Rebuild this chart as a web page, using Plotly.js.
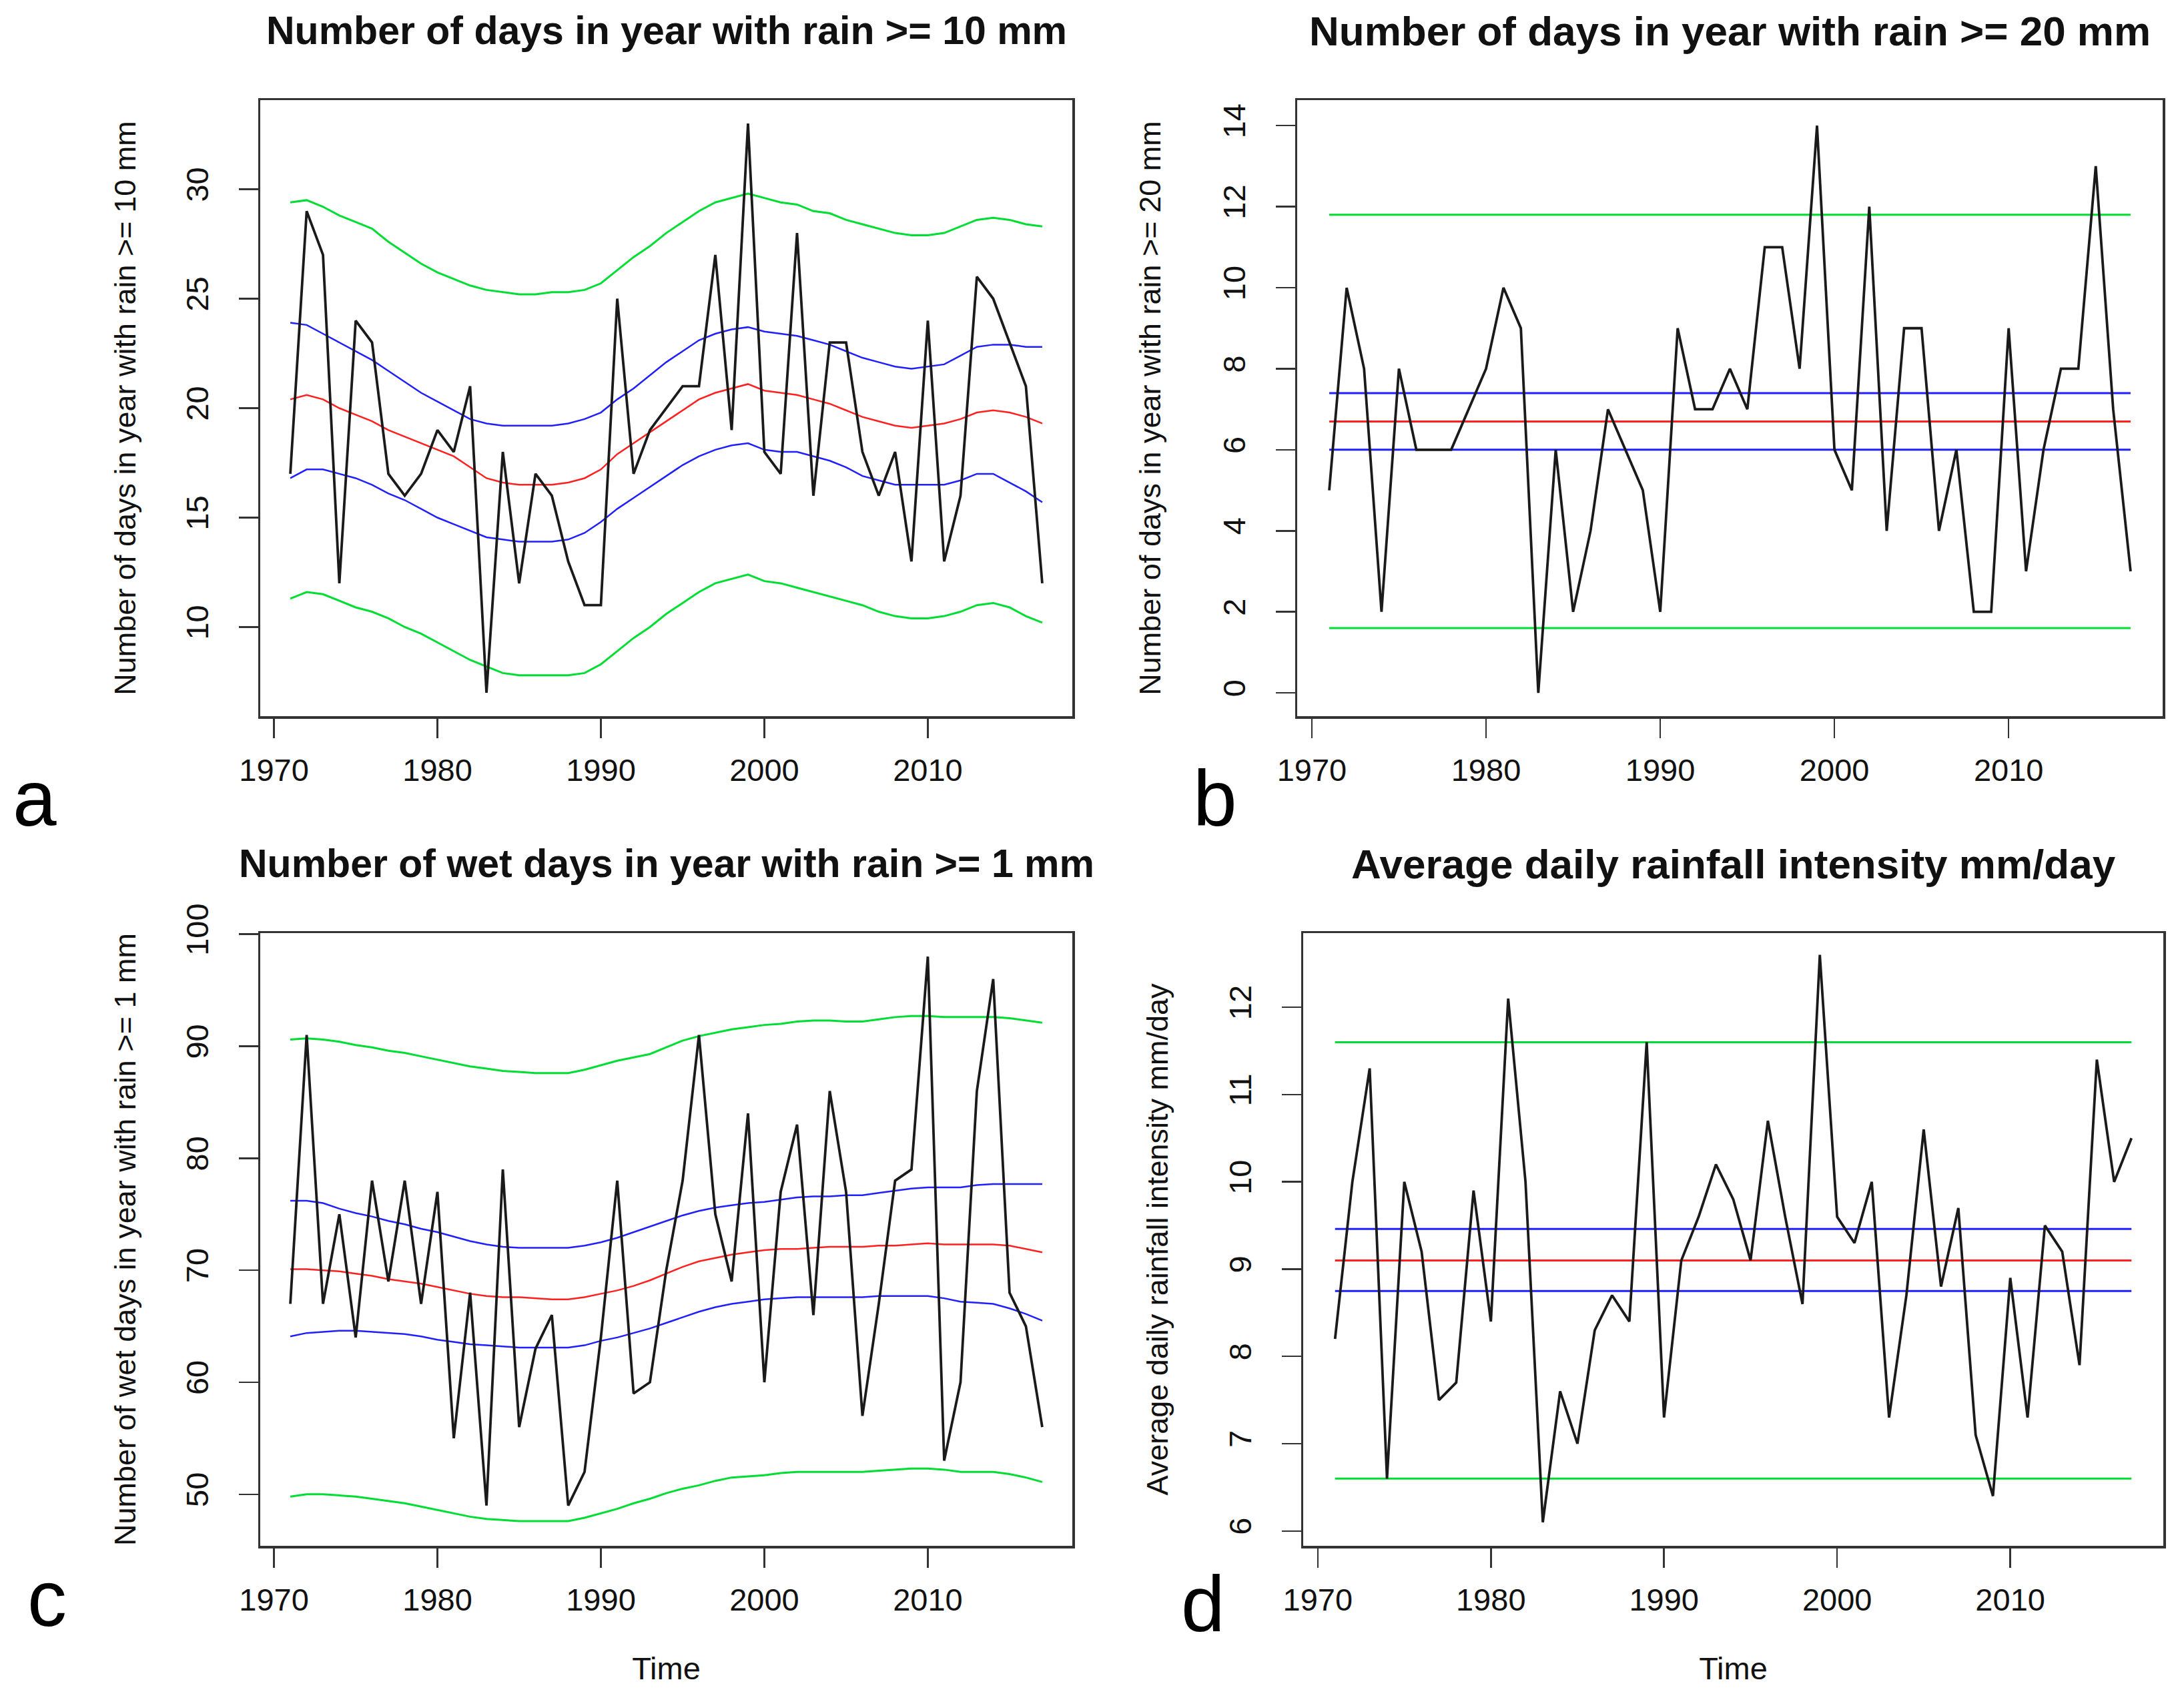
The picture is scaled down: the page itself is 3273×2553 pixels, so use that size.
<!DOCTYPE html>
<html>
<head>
<meta charset="utf-8">
<script src="https://cdn.plot.ly/plotly-3.0.1.min.js"></script>
<style>html,body{margin:0;padding:0;background:#fff;}#chart{width:3273px;height:2553px;}</style>
</head>
<body>
<div id="chart"></div>
<script>
// ---------------- data ----------------
const years = [1971,1972,1973,1974,1975,1976,1977,1978,1979,1980,
  1981,1982,1983,1984,1985,1986,1987,1988,1989,1990,
  1991,1992,1993,1994,1995,1996,1997,1998,1999,2000,
  2001,2002,2003,2004,2005,2006,2007,2008,2009,2010,
  2011,2012,2013,2014,2015,2016,2017];

// Panel a: days with rain >= 10 mm
const r10 = [17,29,27,12,24,23,17,16,17,19, 18,21,7,18,12,17,16,13,11,11,
  25,17,19,20,21,21,27,19,33,18, 17,28,16,23,23,18,16,18,13,24, 13,16,26,25,23,21,12];
const r10Mean = [20.4,20.6,20.4,20.0,19.7,19.4,19.0,18.7,18.4,18.1, 17.8,17.3,16.8,16.6,16.5,16.5,16.5,16.6,16.8,17.2,
  17.9,18.4,18.9,19.4,19.9,20.4,20.7,20.9,21.1,20.8, 20.7,20.6,20.4,20.2,19.9,19.6,19.4,19.2,19.1,19.2, 19.3,19.5,19.8,19.9,19.8,19.6,19.3];
const r10BlueUp = [23.9,23.8,23.4,23.0,22.6,22.2,21.7,21.2,20.7,20.3, 19.9,19.5,19.3,19.2,19.2,19.2,19.2,19.3,19.5,19.8,
  20.4,20.9,21.5,22.1,22.6,23.1,23.4,23.6,23.7,23.5, 23.4,23.3,23.1,22.9,22.6,22.3,22.1,21.9,21.8,21.9, 22.0,22.4,22.8,22.9,22.9,22.8,22.8];
const r10BlueLo = [16.8,17.2,17.2,17.0,16.8,16.5,16.1,15.8,15.4,15.0, 14.7,14.4,14.1,14.0,13.9,13.9,13.9,14.0,14.3,14.8,
  15.4,15.9,16.4,16.9,17.4,17.8,18.1,18.3,18.4,18.1, 18.0,18.0,17.8,17.6,17.3,16.9,16.7,16.5,16.5,16.5, 16.5,16.7,17.0,17.0,16.6,16.2,15.7];
const r10GreenUp = [29.4,29.5,29.2,28.8,28.5,28.2,27.6,27.1,26.6,26.2, 25.9,25.6,25.4,25.3,25.2,25.2,25.3,25.3,25.4,25.7,
  26.3,26.9,27.4,28.0,28.5,29.0,29.4,29.6,29.8,29.6, 29.4,29.3,29.0,28.9,28.6,28.4,28.2,28.0,27.9,27.9, 28.0,28.3,28.6,28.7,28.6,28.4,28.3];
const r10GreenLo = [11.3,11.6,11.5,11.2,10.9,10.7,10.4,10.0,9.7,9.3, 8.9,8.5,8.2,7.9,7.8,7.8,7.8,7.8,7.9,8.3,
  8.9,9.5,10.0,10.6,11.1,11.6,12.0,12.2,12.4,12.1, 12.0,11.8,11.6,11.4,11.2,11.0,10.7,10.5,10.4,10.4, 10.5,10.7,11.0,11.1,10.9,10.5,10.2];

// Panel b: days with rain >= 20 mm
const r20 = [5,10,8,2,8,6,6,6,7,8, 10,9,0,6,2,4,7,6,5,2,
  9,7,7,8,7,11,11,8,14,6, 5,12,4,9,9,4,6,2,2,9, 3,6,8,8,13,7,3];
const r20GreenUp = 11.8, r20BlueUp = 7.4, r20Mean = 6.7, r20BlueLo = 6.0, r20GreenLo = 1.6;

// Panel c: wet days with rain >= 1 mm
const r1 = [67,91,67,75,64,78,69,78,67,77, 55,68,49,79,56,63,66,49,52,64,
  78,59,60,70,78,91,75,69,84,60, 77,83,66,86,77,57,67,78,79,98, 53,60,86,96,68,65,56];
const r1Mean = [70.1,70.1,70.0,69.9,69.7,69.5,69.2,69.0,68.8,68.5, 68.2,67.9,67.7,67.6,67.6,67.5,67.4,67.4,67.6,67.9,
  68.2,68.6,69.1,69.7,70.3,70.8,71.1,71.4,71.6,71.8, 71.9,71.9,72.0,72.1,72.1,72.1,72.2,72.2,72.3,72.4, 72.3,72.3,72.3,72.3,72.2,71.9,71.6];
const r1BlueUp = [76.2,76.2,76.0,75.5,75.1,74.8,74.4,74.1,73.7,73.4, 73.0,72.6,72.3,72.1,72.0,72.0,72.0,72.0,72.2,72.5,
  72.9,73.4,73.9,74.4,74.9,75.3,75.6,75.8,76.0,76.1, 76.3,76.5,76.6,76.6,76.7,76.7,76.9,77.1,77.3,77.4, 77.4,77.4,77.6,77.7,77.7,77.7,77.7];
const r1BlueLo = [64.1,64.4,64.5,64.6,64.6,64.5,64.4,64.3,64.1,63.8, 63.6,63.4,63.3,63.2,63.1,63.1,63.1,63.1,63.3,63.7,
  64.0,64.4,64.8,65.3,65.8,66.3,66.7,67.0,67.2,67.4, 67.5,67.6,67.6,67.6,67.6,67.6,67.7,67.7,67.7,67.7, 67.5,67.2,67.1,67.0,66.6,66.1,65.5];
const r1GreenUp = [90.6,90.7,90.6,90.4,90.1,89.9,89.6,89.4,89.1,88.8, 88.5,88.2,88.0,87.8,87.7,87.6,87.6,87.6,87.9,88.3,
  88.7,89.0,89.3,89.9,90.5,90.9,91.2,91.5,91.7,91.9, 92.0,92.2,92.3,92.3,92.2,92.2,92.4,92.6,92.7,92.7, 92.6,92.6,92.6,92.6,92.5,92.3,92.1];
const r1GreenLo = [49.8,50.0,50.0,49.9,49.8,49.6,49.4,49.2,48.9,48.6, 48.3,48.0,47.8,47.7,47.6,47.6,47.6,47.6,47.9,48.3,
  48.7,49.2,49.6,50.1,50.5,50.8,51.2,51.5,51.6,51.7, 51.9,52.0,52.0,52.0,52.0,52.0,52.1,52.2,52.3,52.3, 52.2,52.0,52.0,52.0,51.8,51.5,51.1];

// Panel d: average daily rainfall intensity
const sdii = [8.2,10.0,11.3,6.6,10.0,9.2,7.5,7.7,9.9,8.4, 12.1,10.0,6.1,7.6,7.0,8.3,8.7,8.4,11.6,7.3,
  9.1,9.6,10.2,9.8,9.1,10.7,9.6,8.6,12.6,9.6, 9.3,10.0,7.3,8.7,10.6,8.8,9.7,7.1,6.4,8.9, 7.3,9.5,9.2,7.9,11.4,10.0,10.5];
const sdiiGreenUp = 11.6, sdiiBlueUp = 9.46, sdiiMean = 9.1, sdiiBlueLo = 8.75, sdiiGreenLo = 6.6;

// tick labels / titles
const xTicks = [1970,1980,1990,2000,2010];
const yTicksA = [10,15,20,25,30];
const yTicksB = [0,2,4,6,8,10,12,14];
const yTicksC = [50,60,70,80,90,100];
const yTicksD = [6,7,8,9,10,11,12];
const titles = ["Number of days in year with rain >= 10 mm","Number of days in year with rain >= 20 mm",
  "Number of wet days in year with rain >= 1 mm","Average daily rainfall intensity mm/day"];
const yTitles = ["Number of days in year with rain >= 10 mm","Number of days in year with rain >= 20 mm",
  "Number of wet days in year with rain >= 1 mm","Average daily rainfall intensity mm/day"];
const panelLetters = ["a","b","c","d"];

// ---------------- styling ----------------
const FONT = "Liberation Sans, Arial, Helvetica, sans-serif";
const C_BLACK = "#1a1a1a", C_RED = "#ff2020", C_BLUE = "#2020ff", C_GREEN = "#00dd33";
const W = 3273, H = 2553;

function line(x, y, color, width, n) {
  const s = n === 1 ? "" : String(n);
  return {type:"scatter", mode:"lines", x:x, y:y, xaxis:"x"+s, yaxis:"y"+s,
    line:{color:color, width:width}, hoverinfo:"skip", showlegend:false};
}
const ends = [years[0], years[years.length-1]];
function hline(v, color, n) { return line(ends, [v, v], color, 3, n); }

const traces = [
  line(years, r10GreenUp, C_GREEN, 3, 1), line(years, r10GreenLo, C_GREEN, 3, 1),
  line(years, r10BlueUp, C_BLUE, 2.5, 1), line(years, r10BlueLo, C_BLUE, 2.5, 1),
  line(years, r10Mean, C_RED, 2.5, 1), line(years, r10, C_BLACK, 3.8, 1),

  hline(r20GreenUp, C_GREEN, 2), hline(r20GreenLo, C_GREEN, 2),
  hline(r20BlueUp, C_BLUE, 2), hline(r20BlueLo, C_BLUE, 2),
  hline(r20Mean, C_RED, 2), line(years, r20, C_BLACK, 3.8, 2),

  line(years, r1GreenUp, C_GREEN, 3, 3), line(years, r1GreenLo, C_GREEN, 3, 3),
  line(years, r1BlueUp, C_BLUE, 2.5, 3), line(years, r1BlueLo, C_BLUE, 2.5, 3),
  line(years, r1Mean, C_RED, 2.5, 3), line(years, r1, C_BLACK, 3.8, 3),

  hline(sdiiGreenUp, C_GREEN, 4), hline(sdiiGreenLo, C_GREEN, 4),
  hline(sdiiBlueUp, C_BLUE, 4), hline(sdiiBlueLo, C_BLUE, 4),
  hline(sdiiMean, C_RED, 4), line(years, sdii, C_BLACK, 3.8, 4)
];

// box positions in pixels (left, right, top, bottom)
const boxes = [[390,1607,150,1073],[1944,3241,150,1073],[390,1607,1398,2316],[1953,3242,1398,2316]];
const yRanges = [[5.93,34.07],[-0.575,14.63],[45.4,100.1],[5.83,12.85]];
const yTickSets = [yTicksA, yTicksB, yTicksC, yTicksD];
const yTitleStandoff = [52,70,52,68];
const titleSize = [59,62,59,62];

const layout = {width:W, height:H, margin:{l:0,r:0,t:0,b:0}, paper_bgcolor:"#fff", plot_bgcolor:"#fff",
  showlegend:false, font:{family:FONT, color:"#111"}, annotations:[]};

boxes.forEach((b, i) => {
  const s = i === 0 ? "" : String(i+1);
  const common = {showline:true, mirror:true, linecolor:"#333", linewidth:3.5, ticks:"outside", ticklen:29,
    tickwidth:2.5, tickcolor:"#333", showgrid:false, zeroline:false, tickfont:{family:FONT, size:47, color:"#111"}};
  layout["xaxis"+s] = Object.assign({}, common, {domain:[b[0]/W, b[1]/W], range:[1969.16,2018.84],
    anchor:"y"+s, tickmode:"array", tickvals:xTicks, ticktext:xTicks.map(String), ticklabelstandoff:8,
    title: i >= 2 ? {text:"Time", font:{family:FONT, size:47, color:"#111"}, standoff:62} : {text:""}});
  layout["yaxis"+s] = Object.assign({}, common, {domain:[1-b[3]/H, 1-b[2]/H], range:yRanges[i],
    anchor:"x"+s, tickmode:"array", tickvals:yTickSets[i], ticktext:yTickSets[i].map(String), tickangle:-90,
    ticklabelstandoff:27,
    title:{text:yTitles[i], font:{family:FONT, size:45, color:"#111"}, standoff:yTitleStandoff[i]}});
  layout.annotations.push({xref:"paper", yref:"paper", x:((b[0]+b[1])/2)/W, y:1-(i<2?46:1294)/H,
    xanchor:"center", yanchor:"middle", showarrow:false, text:"<b>"+titles[i]+"</b>",
    font:{family:FONT, size:titleSize[i], color:"#111"}});
});
const letterPos = [[52,1196],[1821,1196],[70,2395],[1803,2403]];
letterPos.forEach((p, i) => {
  layout.annotations.push({xref:"paper", yref:"paper", x:p[0]/W, y:1-p[1]/H, xanchor:"center", yanchor:"middle",
    showarrow:false, text:panelLetters[i], font:{family:FONT, size:118, color:"#000"}});
});

Plotly.newPlot("chart", traces, layout, {staticPlot:true, displayModeBar:false});
</script>
</body>
</html>
